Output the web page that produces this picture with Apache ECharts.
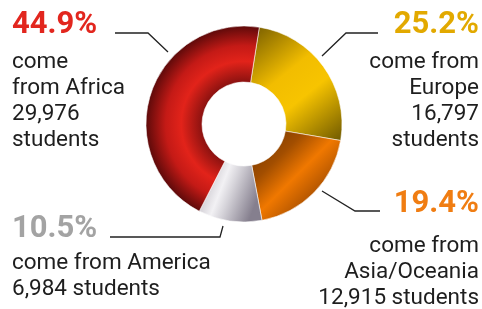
<!DOCTYPE html>
<html>
<head>
<meta charset="utf-8">
<script src="https://cdn.jsdelivr.net/npm/echarts@6/dist/echarts.min.js"></script>
<style>
  html, body { margin: 0; padding: 0; background: #fff; }
  #chart-container { width: 482px; height: 309px; }
</style>
</head>
<body>
<div id="chart-container"></div>
<script>
var regions = ['Europe', 'Asia/Oceania', 'America', 'Africa'];
var students = [16797, 12915, 6984, 29976];
var percents = ['25.2%', '19.4%', '10.5%', '44.9%'];
// caption lines, {n} is replaced by the student count
var captions = [
  ['come from', 'Europe', '{n}', 'students'],
  ['come from', 'Asia/Oceania', '{n} students'],
  ['come from America', '{n} students'],
  ['come', 'from Africa', '{n}', 'students']
];

var pctColors = ['#e2a900', '#f07d12', '#a3a3a3', '#e2261e'];

// slice fills, metallic look
var fills = [
  { type: 'linear', x: 0, y: 0, x2: 1, y2: 1, colorStops: [
    { offset: 0, color: '#735a00' }, { offset: 0.4, color: '#f2bd00' },
    { offset: 0.6, color: '#f7c400' }, { offset: 1, color: '#6e5800' }] },
  { type: 'linear', x: 0, y: 0, x2: 1, y2: 1, colorStops: [
    { offset: 0, color: '#6a3200' }, { offset: 0.3, color: '#a24e00' },
    { offset: 0.5, color: '#f07800' }, { offset: 0.7, color: '#b45600' },
    { offset: 1, color: '#6a3200' }] },
  { type: 'linear', x: 0, y: 0, x2: 1, y2: 0.4, colorStops: [
    { offset: 0, color: '#aaa4ae' }, { offset: 0.45, color: '#f2f1f4' },
    { offset: 0.6, color: '#d6d4da' }, { offset: 1, color: '#857f8e' }] },
  { type: 'radial', x: 244, y: 124, r: 98, global: true, colorStops: [
    { offset: 0, color: '#7a0e0e' }, { offset: 0.43, color: '#8c1210' },
    { offset: 0.64, color: '#e2231a' }, { offset: 0.8, color: '#c41a16' },
    { offset: 1, color: '#5e0a0a' }] }
];

var labelPlace = [
  { x: 479, y: 2, align: 'right', ph: 47, line: [[322, 56], [346, 33], [378, 33]] },
  { x: 479, y: 176, align: 'right', ph: 57, line: [[322, 191], [355, 211], [380, 211]] },
  { x: 12, y: 208, align: 'left', ph: 42, line: [[223, 226], [220, 237], [110, 237]] },
  { x: 12, y: 2, align: 'left', ph: 47, line: [[168, 52], [148, 33], [115, 33]] }
];

var dom = document.getElementById('chart-container');
var myChart = echarts.init(dom, null, { renderer: 'canvas' });

var data = regions.map(function (name, i) {
  var n = echarts.format.addCommas(students[i]);
  var lines = captions[i].map(function (s) { return s.replace('{n}', n); });
  var pl = labelPlace[i];
  return {
    name: name,
    value: students[i],
    itemStyle: { color: fills[i] },
    label: {
      formatter: '{p|' + percents[i] + '}\n{t|' + lines.join('\n') + '}',
      rich: {
        p: { fontSize: 31, fontWeight: 'bold', color: pctColors[i], lineHeight: pl.ph, align: pl.align,
             fontFamily: 'Roboto' },
        t: { fontSize: 22.5, color: '#1e1e1e', lineHeight: 26, align: pl.align, fontFamily: 'Roboto' }
      }
    }
  };
});

var option = {
  animation: false,
  series: [
    {
      type: 'pie',
      silent: true,
      center: [244, 124],
      radius: [42, 98],
      startAngle: 81,
      clockwise: true,
      avoidLabelOverlap: false,
      itemStyle: { borderColor: 'rgba(255,255,255,0.7)', borderWidth: 0.8 },
      label: { show: true, position: 'outside' },
      labelLine: { show: true, length: 10, length2: 10, smooth: false,
                   lineStyle: { color: '#222', width: 1.3 } },
      labelLayout: function (p) {
        var pl = labelPlace[p.dataIndex];
        return { x: pl.x, y: pl.y, align: pl.align, verticalAlign: 'top', labelLinePoints: pl.line };
      },
      data: data
    }
  ]
};

myChart.setOption(option);
window.addEventListener('resize', myChart.resize);
</script>
</body>
</html>
